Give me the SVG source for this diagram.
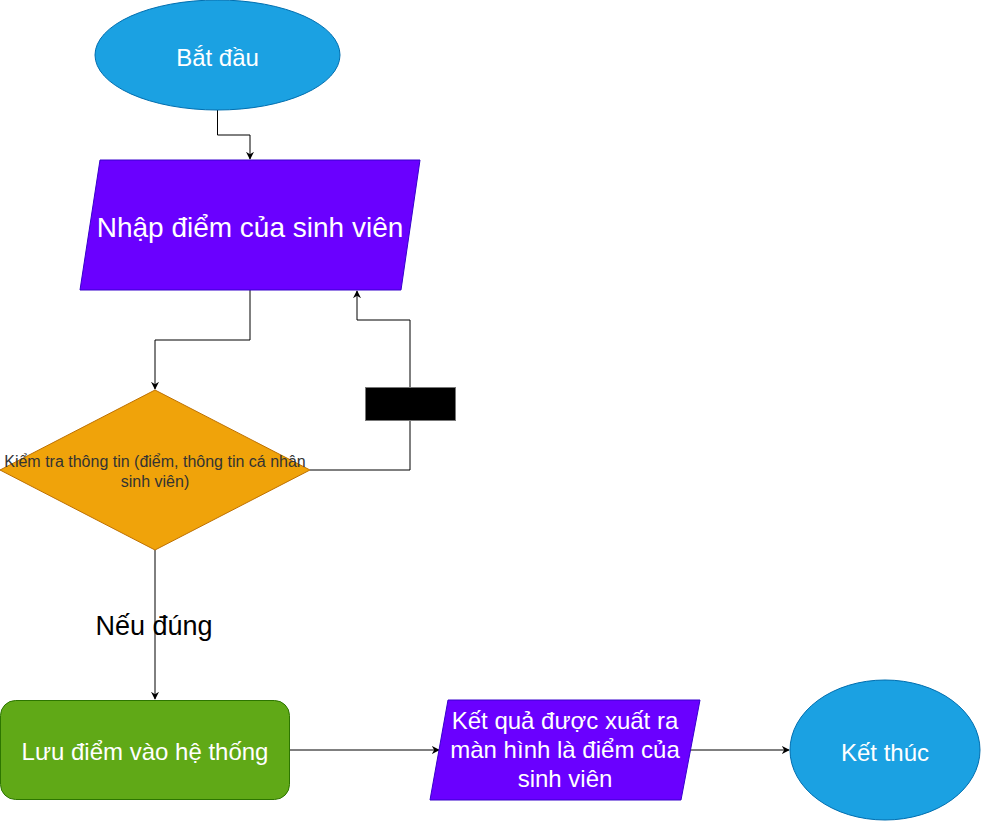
<svg xmlns="http://www.w3.org/2000/svg" width="981" height="821" viewBox="0 0 981 821">
<defs>
<marker id="arr" viewBox="0 0 10 10" refX="9" refY="5" markerWidth="8" markerHeight="8" markerUnits="userSpaceOnUse" orient="auto">
<path d="M0,0 L10,5 L0,10 L3,5 Z" fill="#000"/>
</marker>
<style>
.edge{fill:none;stroke:#000;stroke-width:1;marker-end:url(#arr)}
.t{font-family:"Liberation Sans",Arial,Helvetica,sans-serif;text-anchor:middle}
.w{fill:#fff}
</style>
</defs>
<rect width="981" height="821" fill="#fff"/>
<g id="connectors">
<path class="edge" d="M217.5,110 V135 H250 V159"/>
<path class="edge" d="M250,290 V340 H155 V389"/>
<path class="edge" d="M310,470 H410 V320 H357 V291"/>
<path class="edge" d="M155,550 V699"/>
<path class="edge" d="M290,750 H439"/>
<path class="edge" d="M690,750 H789"/>
</g>
<g id="start">
<ellipse cx="217.5" cy="55" rx="122.5" ry="55" fill="#1ba1e2" stroke="#006eaf"/>
<text class="t w" x="217.5" y="66" font-size="24">Bắt đầu</text>
</g>
<g id="input">
<polygon points="100,160 420,160 401,290 80,290" fill="#6a00ff" stroke="#3700cc"/>
<text class="t w" x="250" y="237" font-size="28">Nhập điểm của sinh viên</text>
</g>
<g id="check">
<polygon points="155,390 310,470 155,550 0,470" fill="#f0a30a" stroke="#bd7000"/>
<text class="t" x="155" y="467" font-size="16" fill="#333">Kiểm tra thông tin (điểm, thông tin cá nhân</text>
<text class="t" x="155" y="487" font-size="16" fill="#333">sinh viên)</text>
</g>
<g id="loop-label">
<rect x="365.5" y="387.5" width="90" height="33" fill="#000" stroke="#777"/>
</g>
<g id="yes-label">
<text class="t" x="154" y="635" font-size="27" fill="#000">Nếu đúng</text>
</g>
<g id="save">
<rect x="0.5" y="700.5" width="289" height="99" rx="15" ry="15" fill="#60a917" stroke="#2d7600"/>
<text class="t w" x="145" y="760" font-size="24">Lưu điểm vào hệ thống</text>
</g>
<g id="output">
<polygon points="448,700 700,700 681,800 430,800" fill="#6a00ff" stroke="#3700cc"/>
<text class="t w" x="565" y="729" font-size="24">Kết quả được xuất ra</text>
<text class="t w" x="565" y="758" font-size="24">màn hình là điểm của</text>
<text class="t w" x="565" y="787" font-size="24">sinh viên</text>
</g>
<g id="end">
<ellipse cx="885" cy="750" rx="95" ry="70" fill="#1ba1e2" stroke="#006eaf"/>
<text class="t w" x="885" y="761" font-size="24">Kết thúc</text>
</g>
</svg>
